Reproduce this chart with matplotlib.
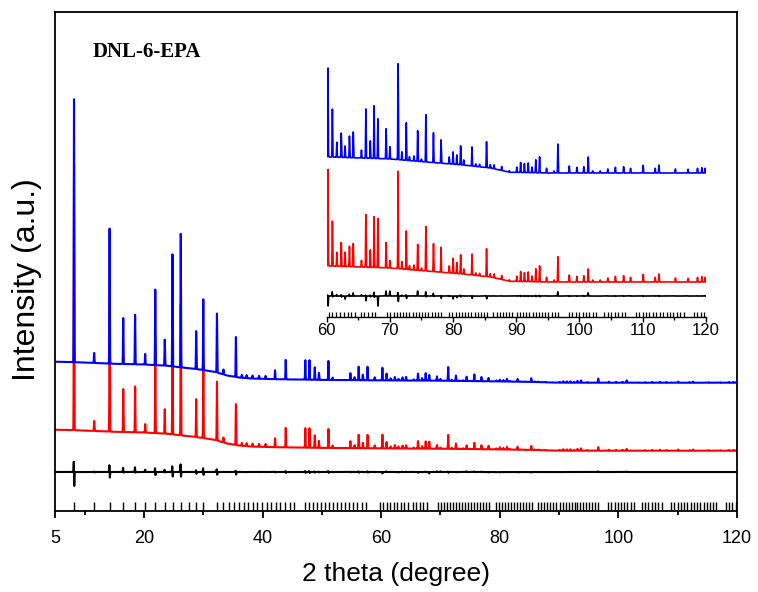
import numpy as np
import matplotlib.pyplot as plt
from matplotlib.ticker import FixedLocator

plt.rcParams['font.family'] = ['Liberation Sans', 'DejaVu Sans']

# background of the pattern (a.u.), control points
bg_x = [5, 10, 15, 20, 24, 26, 28, 30, 32, 34, 36, 38, 42, 50, 60, 70, 76, 81.5, 86, 89, 95, 120]
bg_y = [149.3, 148.5, 147.2, 146.5, 145.2, 143.8, 142.5, 141.0, 139.0, 135.5, 133.5, 132.5,
        131.8, 131.1, 130.6, 130.3, 129.85, 129.45, 129.0, 128.4, 128.3, 128.3]

# reflections: position (2 theta), observed and calculated peak heights (a.u.)
peak_pos = [8.2, 11.6, 14.2, 16.5, 18.5, 20.2, 21.9, 23.5, 24.8, 26.2, 28.8, 30.0, 32.3, 33.4,
            35.5, 36.5, 37.3, 38.3, 39.4, 40.5, 42.1, 43.9, 47.2, 47.9, 48.8, 49.5, 51.1, 51.8,
            54.8, 55.5, 56.2, 56.9, 57.7, 58.9,
            60.2, 60.9, 61.6, 62.3, 62.9, 63.6, 64.2, 65.5, 66.2, 66.9, 67.5, 68.1, 69.4, 70.0,
            71.3, 71.9, 72.6, 73.1, 73.8, 74.4, 75.0, 75.7, 76.9, 78.1, 79.4, 80.0, 80.6, 81.2,
            81.7, 83.0, 83.6, 84.2, 85.3, 85.9, 86.5, 87.7, 88.9, 90.1, 90.7, 91.3, 91.9, 92.5,
            93.1, 93.7, 94.8, 96.0, 96.6, 98.4, 99.6, 100.7, 101.4, 102.1, 103.3, 104.5, 105.7,
            107.0, 108.1, 110.1, 112.0, 112.6, 115.2, 117.2, 118.7, 119.4, 119.9]
obs_height = [263, 10, 135, 46, 49.5, 10.7, 75.5, 26, 112, 133.5, 38, 70.7, 59, 5,
              40, 3, 3, 3, 3, 3, 9, 19.5, 19.5, 19.5, 12.5, 7, 19, 2.5,
              7, 3, 13.5, 5.5, 13.5, 3,
              12.7, 6.86, 2.14, 3.47, 1.64, 3.09, 3.69, 1.14, 7.04, 2.5, 7.53, 5.69, 4.3, 1.76,
              13.7, 1.17, 5.37, 0.57, 0.71, 4.37, 0.36, 6.76, 4.27, 3.34, 1.01, 1.76, 1.37, 2.7,
              0.74, 2.73, 0.36, 0.36, 3.7, 0.49, 0.57, 0.57, 0.21, 0.76, 1.43, 1.29, 1.39, 0.81,
              1.86, 2.29, 0.67, 0.29, 4.14, 1.0, 0.81, 0.9, 2.29, 0.29, 0.29, 0.57, 0.81,
              0.9, 0.67, 1.1, 0.67, 1.14, 0.57, 0.53, 0.67, 0.76, 0.67]
calc_height = [266, 10, 134, 43, 46, 8.5, 75, 24.5, 111, 131, 38, 70, 59, 5,
               41, 3, 3, 3, 3, 3, 9, 19.5, 19.5, 19.5, 12.5, 7, 19, 2.5,
               7, 3, 13.5, 5.5, 13.5, 3,
               13.8, 6.43, 2.0, 3.43, 2.07, 2.93, 3.33, 0.96, 7.53, 2.5, 7.26, 7.03, 3.64, 1.07,
               13.93, 1.07, 5.5, 0.57, 0.71, 3.71, 0.36, 6.36, 4.0, 3.57, 1.01, 2.14, 1.57, 2.71,
               0.74, 3.0, 0.36, 0.36, 4.0, 0.49, 0.57, 0.57, 0.21, 0.76, 1.43, 1.29, 1.39, 0.81,
               1.86, 2.29, 0.67, 0.29, 3.61, 1.0, 0.81, 0.9, 1.86, 0.29, 0.29, 0.57, 0.81,
               0.9, 0.67, 1.1, 0.67, 1.14, 0.57, 0.53, 0.67, 0.76, 0.67]

# Bragg positions (tick marks)
bragg_pos = [8.2, 11.6, 14.2, 16.5, 18.5, 20.2, 21.9, 23.5, 24.9, 26.3, 27.6, 28.8, 30.0,
             32.3, 33.4, 34.3, 35.2, 36.0, 36.8, 37.6, 38.3, 39.1, 39.9, 40.7, 41.5, 42.2,
             43.0, 43.8, 44.6, 45.3,
             47.1, 47.8, 48.5, 49.1, 49.8, 50.5, 51.2, 51.9, 52.6, 53.2, 53.9, 54.6, 55.3,
             56.0, 56.7, 57.4,
             59.8, 60.3, 60.9, 61.5, 62.1, 62.7, 63.3, 63.9, 64.5,
             65.4, 65.9, 66.5, 67.1, 67.7,
             69.6, 70.1, 70.6, 71.1, 71.6, 72.1, 72.6, 73.1, 73.6, 74.1, 74.6, 75.1, 75.6,
             76.1, 76.6, 77.1, 77.6, 78.1,
             79.4, 79.9, 80.4, 80.9, 81.4, 81.9, 82.4, 82.9, 83.4, 83.9, 84.4, 84.9, 85.4,
             86.4, 86.9, 87.4, 87.9, 88.4, 88.9, 89.4,
             90.1, 90.6, 91.1, 91.6, 92.1, 92.6, 93.1, 93.6, 94.1, 94.6, 95.1, 95.6, 96.1, 96.6,
             98.3, 98.8, 99.4, 99.9, 100.5, 101.0, 101.5, 102.1, 102.6,
             103.9, 104.5, 105.0, 105.6, 106.1, 106.7, 107.3,
             108.9, 109.4, 110.0, 110.5, 111.1, 111.6, 112.2, 112.7, 113.3, 113.8, 114.4,
             114.9, 115.5, 116.0, 116.5,
             118.1, 118.7, 119.2, 119.8]

sigma = 0.04
zero_shift = 0.003
tt = np.arange(5, 120.0001, 0.005)


def profile(heights, shift=0.0):
    y = np.interp(tt, bg_x, bg_y)
    for p, h in zip(peak_pos, heights):
        y = y + h * np.exp(-0.5 * ((tt - p - shift) / sigma) ** 2)
    return y


obs = profile(obs_height)
calc = profile(calc_height, zero_shift)
diff = obs - calc

fig = plt.figure(figsize=(7.58, 5.92), dpi=100)
ax = fig.add_axes([0.0726, 0.1368, 0.8997, 0.8429])

ax.plot(tt, calc - 68, color='red', lw=1.5, zorder=2)
ax.plot(tt, obs, color='blue', lw=1.5, zorder=3)
ax.plot(tt, diff + 39, color='black', lw=1.5, zorder=2)
ax.vlines(bragg_pos, 1, 9, color='black', lw=1.0)

ax.set_xlim(5, 120)
ax.set_ylim(0, 499)
ax.set_xticks([5, 20, 40, 60, 80, 100, 120])
ax.xaxis.set_minor_locator(FixedLocator([10, 30, 50, 70, 90, 110]))
ax.set_yticks([])
ax.tick_params(axis='x', which='major', direction='out', length=5, width=1.3, labelsize=13, pad=9)
ax.tick_params(axis='x', which='minor', direction='out', length=3, width=1.3)
for s in ax.spines.values():
    s.set_linewidth(1.3)

ax.set_xlabel('2 theta (degree)', fontsize=19, va='center')
ax.xaxis.set_label_coords(0.5, -0.126)
ax.set_ylabel('Intensity (a.u.)', fontsize=23, va='center')
ax.yaxis.set_label_coords(-0.041, 0.463)

ax.text(0.0557, 0.92, 'DNL-6-EPA', transform=ax.transAxes, fontsize=15, fontweight='bold',
        family=['Liberation Serif', 'DejaVu Serif'], ha='left', va='center')

# inset: high angle part, magnified
m = tt >= 60
ins = fig.add_axes([0.431, 0.4645, 0.5, 0.4426])
ins.set_facecolor('none')
ins.plot(tt[m], (calc[m] - 128.3) * 7 + 35, color='red', lw=1.2)
ins.plot(tt[m], (obs[m] - 128.3) * 7 + 144, color='blue', lw=1.2)
ins.plot(tt[m], diff[m] * 7 + 21, color='black', lw=1.2)
ins.vlines([b for b in bragg_pos if b >= 60], 0, 5.5, color='black', lw=0.9)
ins.set_xlim(60, 120)
ins.set_ylim(0, 262)
ins.set_xticks([60, 70, 80, 90, 100, 110, 120])
ins.xaxis.set_minor_locator(FixedLocator([65, 75, 85, 95, 105, 115]))
ins.set_yticks([])
ins.tick_params(axis='x', which='major', direction='out', length=3.5, width=1.0, labelsize=12, pad=0.5)
ins.tick_params(axis='x', which='minor', direction='out', length=2, width=1.0)
for side in ['top', 'left', 'right']:
    ins.spines[side].set_visible(False)
ins.spines['bottom'].set_linewidth(1.0)

fig.savefig('out.png', dpi=100)
